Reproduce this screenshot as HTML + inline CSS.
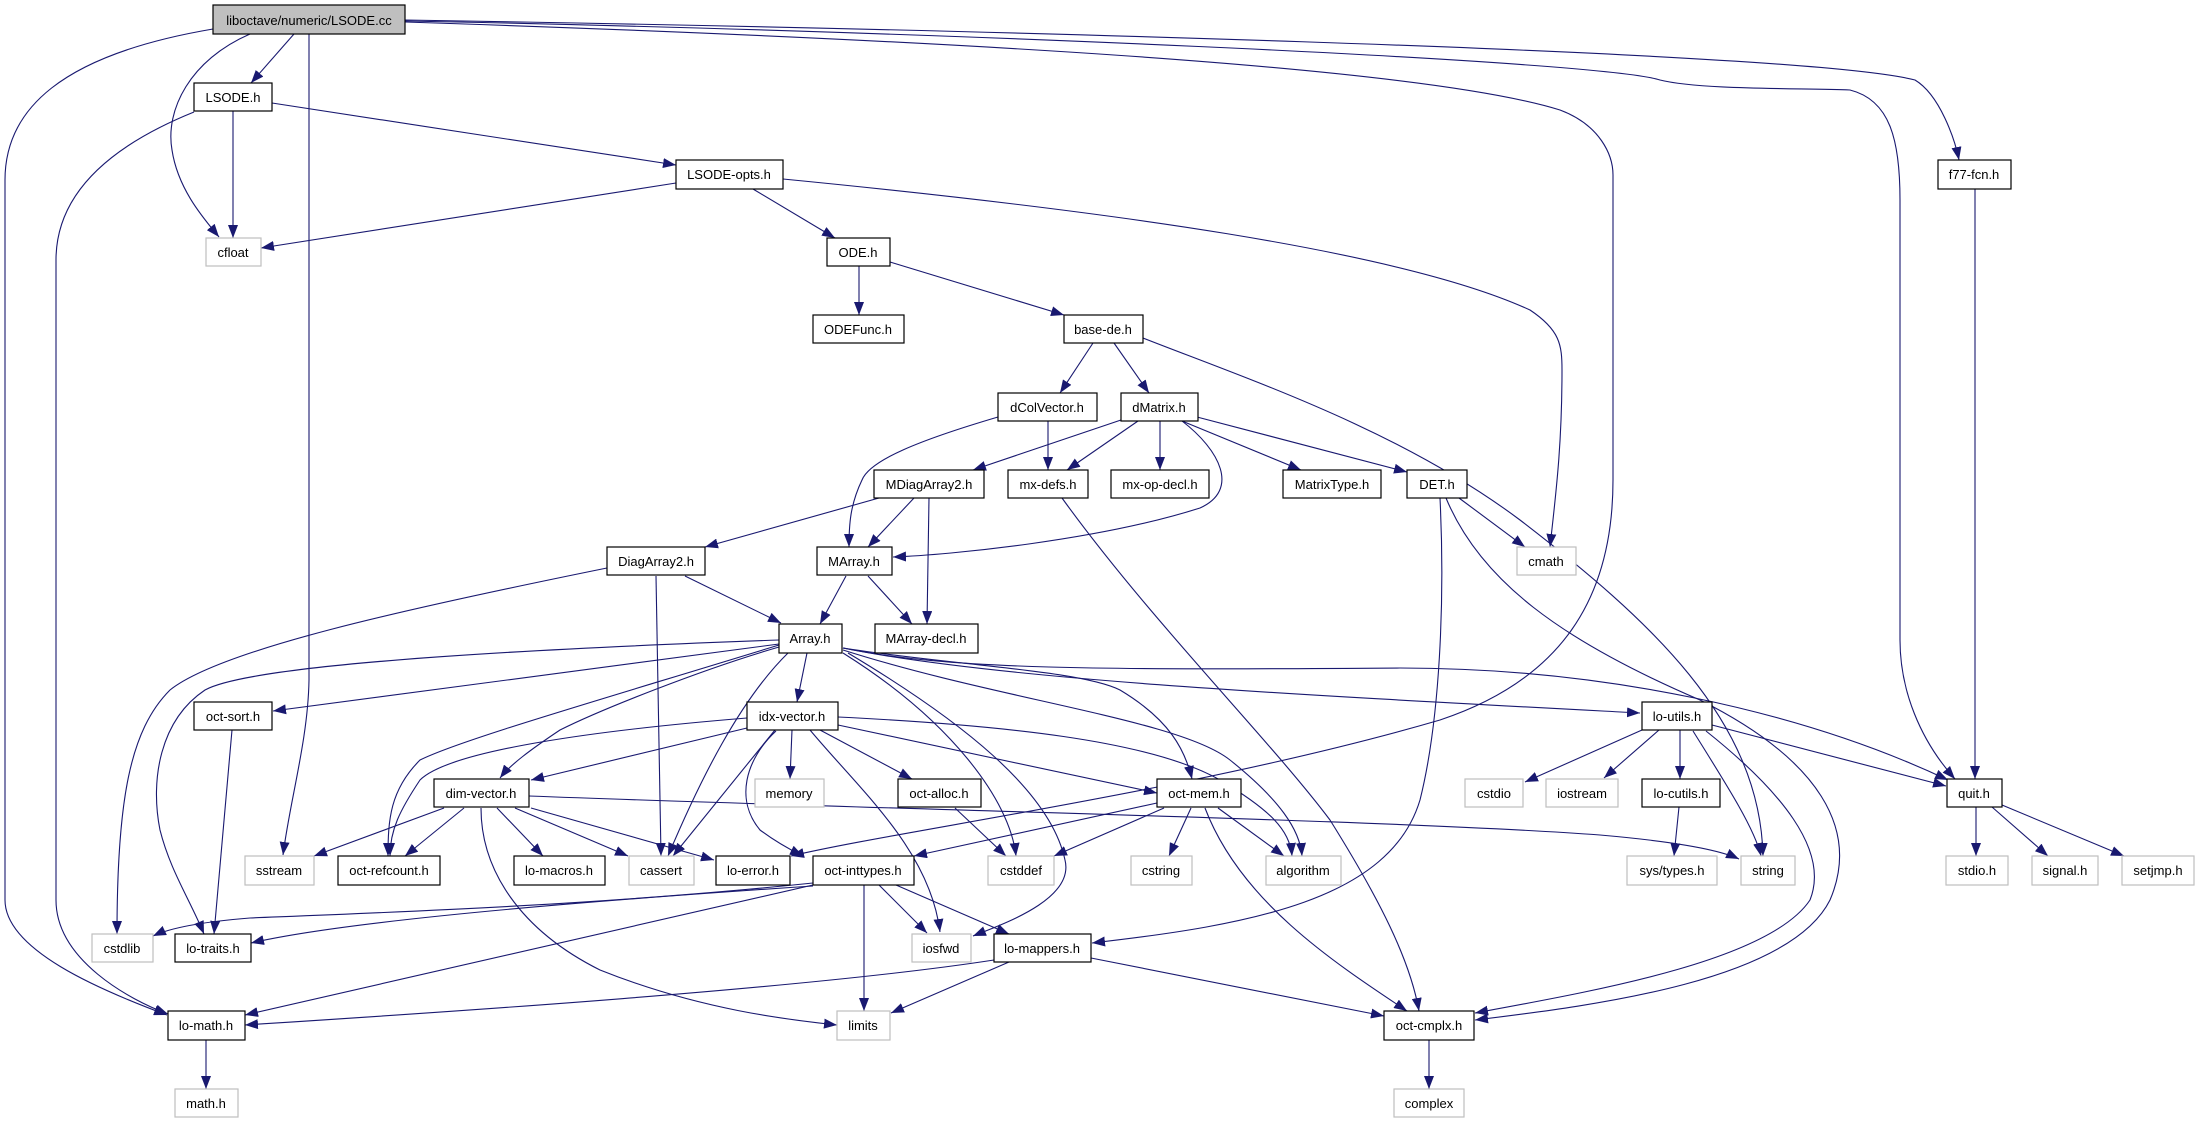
<!DOCTYPE html>
<html><head><meta charset="utf-8"><style>
html,body{margin:0;padding:0;background:#fff;}
svg{display:block;}
text{font-family:"Liberation Sans",sans-serif;font-size:13px;fill:#000;text-anchor:middle;}
.n{fill:#fff;stroke:#000;stroke-width:1.2;}
.g{fill:#fff;stroke:#bfbfbf;stroke-width:1.2;}
.r{fill:#bfbfbf;stroke:#000;stroke-width:1.2;}
path.e{fill:none;stroke:#191970;stroke-width:1.1;marker-end:url(#a);}
</style></head><body>
<svg width="2200" height="1123" viewBox="0 0 2200 1123" xmlns="http://www.w3.org/2000/svg">
<defs><marker id="a" markerUnits="userSpaceOnUse" markerWidth="14" markerHeight="10" refX="13" refY="5" orient="auto"><path d="M0,0 L13,5 L0,10 z" fill="#191970"/></marker></defs>
<g>
<path class="e" d="M213,29 C60,55 5,110 5,180 L5,900 C5,950 100,990 167,1015"/>
<path class="e" d="M250,34 C190,60 165,110 172,150 C178,190 205,220 219,237"/>
<path class="e" d="M294,34 L251,83"/>
<path class="e" d="M309,34 L309,680 C308,740 290,800 283,855"/>
<path class="e" d="M405,20 C900,28 1800,50 1915,80 C1940,95 1955,140 1959,160"/>
<path class="e" d="M405,21 C900,30 1600,60 1660,80 C1700,90 1800,88 1850,90 C1890,100 1900,140 1900,200 L1900,640 C1900,690 1920,740 1955,779"/>
<path class="e" d="M405,22 C800,35 1400,60 1560,110 C1600,125 1613,155 1613,175 L1613,480 C1613,600 1560,680 1440,720 C1200,790 900,830 791,856"/>
<path class="e" d="M233,111 L233,238"/>
<path class="e" d="M194,112 C100,150 56,200 56,260 L56,900 C56,960 130,1000 168,1014"/>
<path class="e" d="M272,103 L676,165"/>
<path class="e" d="M676,183 L261,248"/>
<path class="e" d="M753,189 L835,238"/>
<path class="e" d="M783,179 C1100,210 1400,250 1530,310 C1560,330 1562,345 1562,370 C1562,450 1555,500 1550,547"/>
<path class="e" d="M859,266 L859,315"/>
<path class="e" d="M890,262 L1064,315"/>
<path class="e" d="M1093,343 L1060,393"/>
<path class="e" d="M1114,343 L1149,393"/>
<path class="e" d="M1143,338 C1250,380 1400,430 1520,520 C1650,620 1760,720 1763,856"/>
<path class="e" d="M1048,421 L1048,470"/>
<path class="e" d="M998,417 C920,440 870,460 862,480 C850,505 849,525 849,547"/>
<path class="e" d="M1121,420 L973,470"/>
<path class="e" d="M1138,421 L1067,470"/>
<path class="e" d="M1160,421 L1160,470"/>
<path class="e" d="M1182,421 L1301,470"/>
<path class="e" d="M1197,417 L1407,472"/>
<path class="e" d="M1182,421 C1220,450 1240,490 1200,508 C1100,540 950,555 893,557"/>
<path class="e" d="M879,498 L705,547"/>
<path class="e" d="M914,498 L868,547"/>
<path class="e" d="M929,498 L927,624"/>
<path class="e" d="M685,576 L781,623"/>
<path class="e" d="M656,576 L661,856"/>
<path class="e" d="M607,568 C400,610 220,650 170,690 C130,730 117,800 117,934"/>
<path class="e" d="M846,576 L820,624"/>
<path class="e" d="M868,576 L912,624"/>
<path class="e" d="M779,644 L273,711"/>
<path class="e" d="M779,640 C500,650 250,665 205,690 C160,720 150,780 160,830 C170,870 190,900 204,934"/>
<path class="e" d="M779,647 C700,670 600,710 560,730 C530,750 510,765 500,778"/>
<path class="e" d="M779,645 C600,700 460,740 420,760 C390,790 388,820 388,856"/>
<path class="e" d="M807,653 L797,702"/>
<path class="e" d="M788,653 C740,700 700,780 668,856"/>
<path class="e" d="M843,653 C950,720 1010,800 1016,856"/>
<path class="e" d="M848,653 C960,720 1050,790 1065,860 C1075,900 1000,925 973,936"/>
<path class="e" d="M843,648 C950,665 1080,670 1120,690 C1170,720 1185,750 1192,779"/>
<path class="e" d="M843,650 C1000,700 1180,720 1230,760 C1280,800 1300,830 1302,856"/>
<path class="e" d="M843,648 C1000,680 1300,695 1640,713"/>
<path class="e" d="M843,648 C950,670 1100,670 1400,668 C1600,668 1800,710 1948,780"/>
<path class="e" d="M792,730 L790,779"/>
<path class="e" d="M820,730 L912,779"/>
<path class="e" d="M838,725 L1157,793"/>
<path class="e" d="M838,717 C1000,725 1150,740 1220,780 C1270,810 1290,830 1292,856"/>
<path class="e" d="M775,730 L673,856"/>
<path class="e" d="M776,731 C745,760 735,800 760,830 C780,845 795,852 803,856"/>
<path class="e" d="M810,730 C860,790 930,850 940,932"/>
<path class="e" d="M747,728 L531,780"/>
<path class="e" d="M747,718 C600,730 450,750 420,780 C400,810 390,830 390,856"/>
<path class="e" d="M444,808 L314,856"/>
<path class="e" d="M464,808 L405,856"/>
<path class="e" d="M497,808 L543,856"/>
<path class="e" d="M515,808 L628,856"/>
<path class="e" d="M531,808 L714,860"/>
<path class="e" d="M529,796 C900,810 1400,820 1600,835 C1680,842 1720,850 1739,859"/>
<path class="e" d="M481,808 C481,870 520,930 600,970 C700,1010 790,1020 837,1025"/>
<path class="e" d="M1157,803 L914,856"/>
<path class="e" d="M1164,808 L1054,856"/>
<path class="e" d="M1191,808 L1169,856"/>
<path class="e" d="M1218,808 L1284,856"/>
<path class="e" d="M1205,808 C1240,900 1330,960 1407,1011"/>
<path class="e" d="M955,808 L1006,856"/>
<path class="e" d="M879,885 L927,933"/>
<path class="e" d="M896,885 L1009,934"/>
<path class="e" d="M864,885 L864,1011"/>
<path class="e" d="M813,883 C600,905 400,912 250,918 C200,922 170,928 153,936"/>
<path class="e" d="M813,886 C600,900 350,920 251,943"/>
<path class="e" d="M813,885 L245,1015"/>
<path class="e" d="M994,960 C800,990 400,1015 245,1025"/>
<path class="e" d="M1009,962 L891,1013"/>
<path class="e" d="M1091,958 L1384,1016"/>
<path class="e" d="M1062,498 C1150,620 1270,740 1330,820 C1380,900 1410,960 1419,1011"/>
<path class="e" d="M1459,498 L1525,547"/>
<path class="e" d="M1440,498 C1445,600 1440,720 1420,800 C1390,900 1250,925 1092,943"/>
<path class="e" d="M1446,498 C1480,580 1560,640 1700,700 C1820,760 1860,830 1830,900 C1790,980 1600,1005 1475,1020"/>
<path class="e" d="M1642,730 L1525,782"/>
<path class="e" d="M1659,730 L1604,778"/>
<path class="e" d="M1680,730 L1680,779"/>
<path class="e" d="M1693,731 C1730,790 1755,830 1761,856"/>
<path class="e" d="M1712,725 L1946,786"/>
<path class="e" d="M1706,731 C1780,790 1830,850 1810,900 C1770,960 1600,990 1475,1013"/>
<path class="e" d="M1679,807 L1674,856"/>
<path class="e" d="M1976,807 L1976,856"/>
<path class="e" d="M1992,807 L2048,856"/>
<path class="e" d="M2002,805 L2124,856"/>
<path class="e" d="M1975,189 L1975,779"/>
<path class="e" d="M232,730 L214,934"/>
<path class="e" d="M206,1040 L206,1089"/>
<path class="e" d="M1429,1040 L1429,1089"/>
</g>
<g>
<rect class="r" x="213" y="5" width="192" height="29"/><text x="309" y="25">liboctave/numeric/LSODE.cc</text>
<rect class="n" x="194" y="83" width="78" height="28"/><text x="233" y="102">LSODE.h</text>
<rect class="g" x="206" y="238" width="55" height="28"/><text x="233" y="257">cfloat</text>
<rect class="n" x="676" y="160" width="107" height="29"/><text x="729" y="179">LSODE-opts.h</text>
<rect class="n" x="1938" y="160" width="73" height="29"/><text x="1974" y="179">f77-fcn.h</text>
<rect class="n" x="827" y="238" width="63" height="28"/><text x="858" y="257">ODE.h</text>
<rect class="n" x="813" y="315" width="91" height="28"/><text x="858" y="334">ODEFunc.h</text>
<rect class="n" x="1064" y="315" width="79" height="28"/><text x="1103" y="334">base-de.h</text>
<rect class="n" x="998" y="393" width="99" height="28"/><text x="1047" y="412">dColVector.h</text>
<rect class="n" x="1121" y="393" width="77" height="28"/><text x="1159" y="412">dMatrix.h</text>
<rect class="n" x="874" y="470" width="110" height="28"/><text x="929" y="489">MDiagArray2.h</text>
<rect class="n" x="1008" y="470" width="80" height="28"/><text x="1048" y="489">mx-defs.h</text>
<rect class="n" x="1111" y="470" width="98" height="28"/><text x="1160" y="489">mx-op-decl.h</text>
<rect class="n" x="1283" y="470" width="98" height="28"/><text x="1332" y="489">MatrixType.h</text>
<rect class="n" x="1407" y="470" width="60" height="28"/><text x="1437" y="489">DET.h</text>
<rect class="g" x="1517" y="547" width="59" height="28"/><text x="1546" y="566">cmath</text>
<rect class="n" x="607" y="547" width="98" height="28"/><text x="656" y="566">DiagArray2.h</text>
<rect class="n" x="817" y="547" width="75" height="28"/><text x="854" y="566">MArray.h</text>
<rect class="n" x="779" y="624" width="63" height="29"/><text x="810" y="643">Array.h</text>
<rect class="n" x="875" y="624" width="103" height="29"/><text x="926" y="643">MArray-decl.h</text>
<rect class="n" x="194" y="702" width="78" height="28"/><text x="233" y="721">oct-sort.h</text>
<rect class="n" x="747" y="702" width="91" height="28"/><text x="792" y="721">idx-vector.h</text>
<rect class="n" x="1642" y="702" width="70" height="28"/><text x="1677" y="721">lo-utils.h</text>
<rect class="n" x="434" y="779" width="95" height="28"/><text x="481" y="798">dim-vector.h</text>
<rect class="g" x="755" y="779" width="69" height="28"/><text x="789" y="798">memory</text>
<rect class="n" x="898" y="779" width="83" height="28"/><text x="939" y="798">oct-alloc.h</text>
<rect class="n" x="1157" y="779" width="84" height="28"/><text x="1199" y="798">oct-mem.h</text>
<rect class="g" x="1465" y="779" width="58" height="28"/><text x="1494" y="798">cstdio</text>
<rect class="g" x="1546" y="779" width="72" height="28"/><text x="1582" y="798">iostream</text>
<rect class="n" x="1642" y="779" width="78" height="28"/><text x="1681" y="798">lo-cutils.h</text>
<rect class="n" x="1947" y="779" width="55" height="28"/><text x="1974" y="798">quit.h</text>
<rect class="g" x="245" y="856" width="69" height="29"/><text x="279" y="875">sstream</text>
<rect class="n" x="338" y="856" width="102" height="29"/><text x="389" y="875">oct-refcount.h</text>
<rect class="n" x="514" y="856" width="91" height="29"/><text x="559" y="875">lo-macros.h</text>
<rect class="g" x="629" y="856" width="65" height="29"/><text x="661" y="875">cassert</text>
<rect class="n" x="716" y="856" width="74" height="29"/><text x="753" y="875">lo-error.h</text>
<rect class="n" x="813" y="856" width="101" height="29"/><text x="863" y="875">oct-inttypes.h</text>
<rect class="g" x="988" y="856" width="66" height="29"/><text x="1021" y="875">cstddef</text>
<rect class="g" x="1131" y="856" width="61" height="29"/><text x="1161" y="875">cstring</text>
<rect class="g" x="1266" y="856" width="75" height="29"/><text x="1303" y="875">algorithm</text>
<rect class="g" x="1627" y="856" width="90" height="29"/><text x="1672" y="875">sys/types.h</text>
<rect class="g" x="1741" y="856" width="54" height="29"/><text x="1768" y="875">string</text>
<rect class="g" x="1946" y="856" width="62" height="29"/><text x="1977" y="875">stdio.h</text>
<rect class="g" x="2032" y="856" width="66" height="29"/><text x="2065" y="875">signal.h</text>
<rect class="g" x="2122" y="856" width="72" height="29"/><text x="2158" y="875">setjmp.h</text>
<rect class="g" x="92" y="934" width="61" height="28"/><text x="122" y="953">cstdlib</text>
<rect class="n" x="175" y="934" width="76" height="28"/><text x="213" y="953">lo-traits.h</text>
<rect class="g" x="912" y="934" width="59" height="28"/><text x="941" y="953">iosfwd</text>
<rect class="n" x="994" y="934" width="97" height="28"/><text x="1042" y="953">lo-mappers.h</text>
<rect class="n" x="168" y="1011" width="77" height="29"/><text x="206" y="1030">lo-math.h</text>
<rect class="g" x="837" y="1011" width="53" height="29"/><text x="863" y="1030">limits</text>
<rect class="n" x="1384" y="1011" width="90" height="29"/><text x="1429" y="1030">oct-cmplx.h</text>
<rect class="g" x="175" y="1089" width="63" height="28"/><text x="206" y="1108">math.h</text>
<rect class="g" x="1394" y="1089" width="70" height="28"/><text x="1429" y="1108">complex</text>
</g>
</svg>
</body></html>
